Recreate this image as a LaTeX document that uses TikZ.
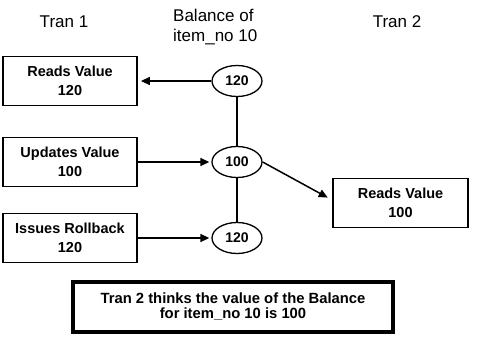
\documentclass[tikz,border=0pt]{standalone}
\usepackage{fontspec}
\setmainfont{Liberation Sans}
\usetikzlibrary{arrows.meta, positioning, shapes.geometric}
\tikzset{
  opbox/.style ={rectangle, draw=black, line width=1.8pt, fill=white,
                 minimum width=134pt, minimum height=49pt, align=center,
                 font=\bfseries\fontsize{14.5}{19.5}\selectfont},
  val/.style   ={ellipse, draw=black, line width=1.3pt, fill=white,
                 minimum width=50pt, minimum height=31pt, inner sep=0pt,
                 font=\bfseries\fontsize{14}{15}\selectfont},
  hdr/.style   ={font=\fontsize{17}{20}\selectfont, inner sep=0pt},
  note/.style  ={rectangle, draw=black, line width=4pt, fill=white,
                 minimum width=320pt, minimum height=50pt, align=center,
                 font=\bfseries\fontsize{14.8}{15.5}\selectfont},
  arr/.style   ={-{Triangle[length=9pt, width=8pt]}, line width=1.5pt},
  lnk/.style   ={line width=1.5pt}
}
\begin{document}
\begin{tikzpicture}[x=1pt, y=-1pt]
    \useasboundingbox (0,0) rectangle (477,338);
    % headers
    \node[hdr] (t1) at (64,22) {Tran 1};
    \node[hdr, anchor=west, align=left] (bal) at (173,27) {Balance of\\item\_no 10};
    \node[hdr] (t2) at (397,22) {Tran 2};
    % balance values
    \node[val] (e1) at (237,81) {120};
    \node[val] (e2) at (237,162) {100};
    \node[val] (e3) at (237,238) {120};
    % transaction steps
    \node[opbox] (rd1) at (70,81) {Reads Value\\120};
    \node[opbox] (up1) at (70,162) {Updates Value\\100};
    \node[opbox] (rb1) at (70,238) {Issues Rollback\\120};
    \node[opbox, minimum width=135pt] (rd2) at (400.5,203) {Reads Value\\100};
    \node[note] (msg) at (233,306.5) {Tran 2 thinks the value of the Balance\\for item\_no 10 is 100};
    \draw[lnk] (e1) -- (e2);
    \draw[lnk] (e2) -- (e3);
    \draw[arr, shorten >=3pt] (e1) -- (rd1);
    \draw[arr, shorten >=2pt] (up1) -- (e2);
    \draw[arr, shorten >=2pt] (rb1) -- (e3);
    \draw[arr, shorten >=5pt] (e2.east) -- ([yshift=3pt]rd2.west);
  \end{tikzpicture}
\end{document}
